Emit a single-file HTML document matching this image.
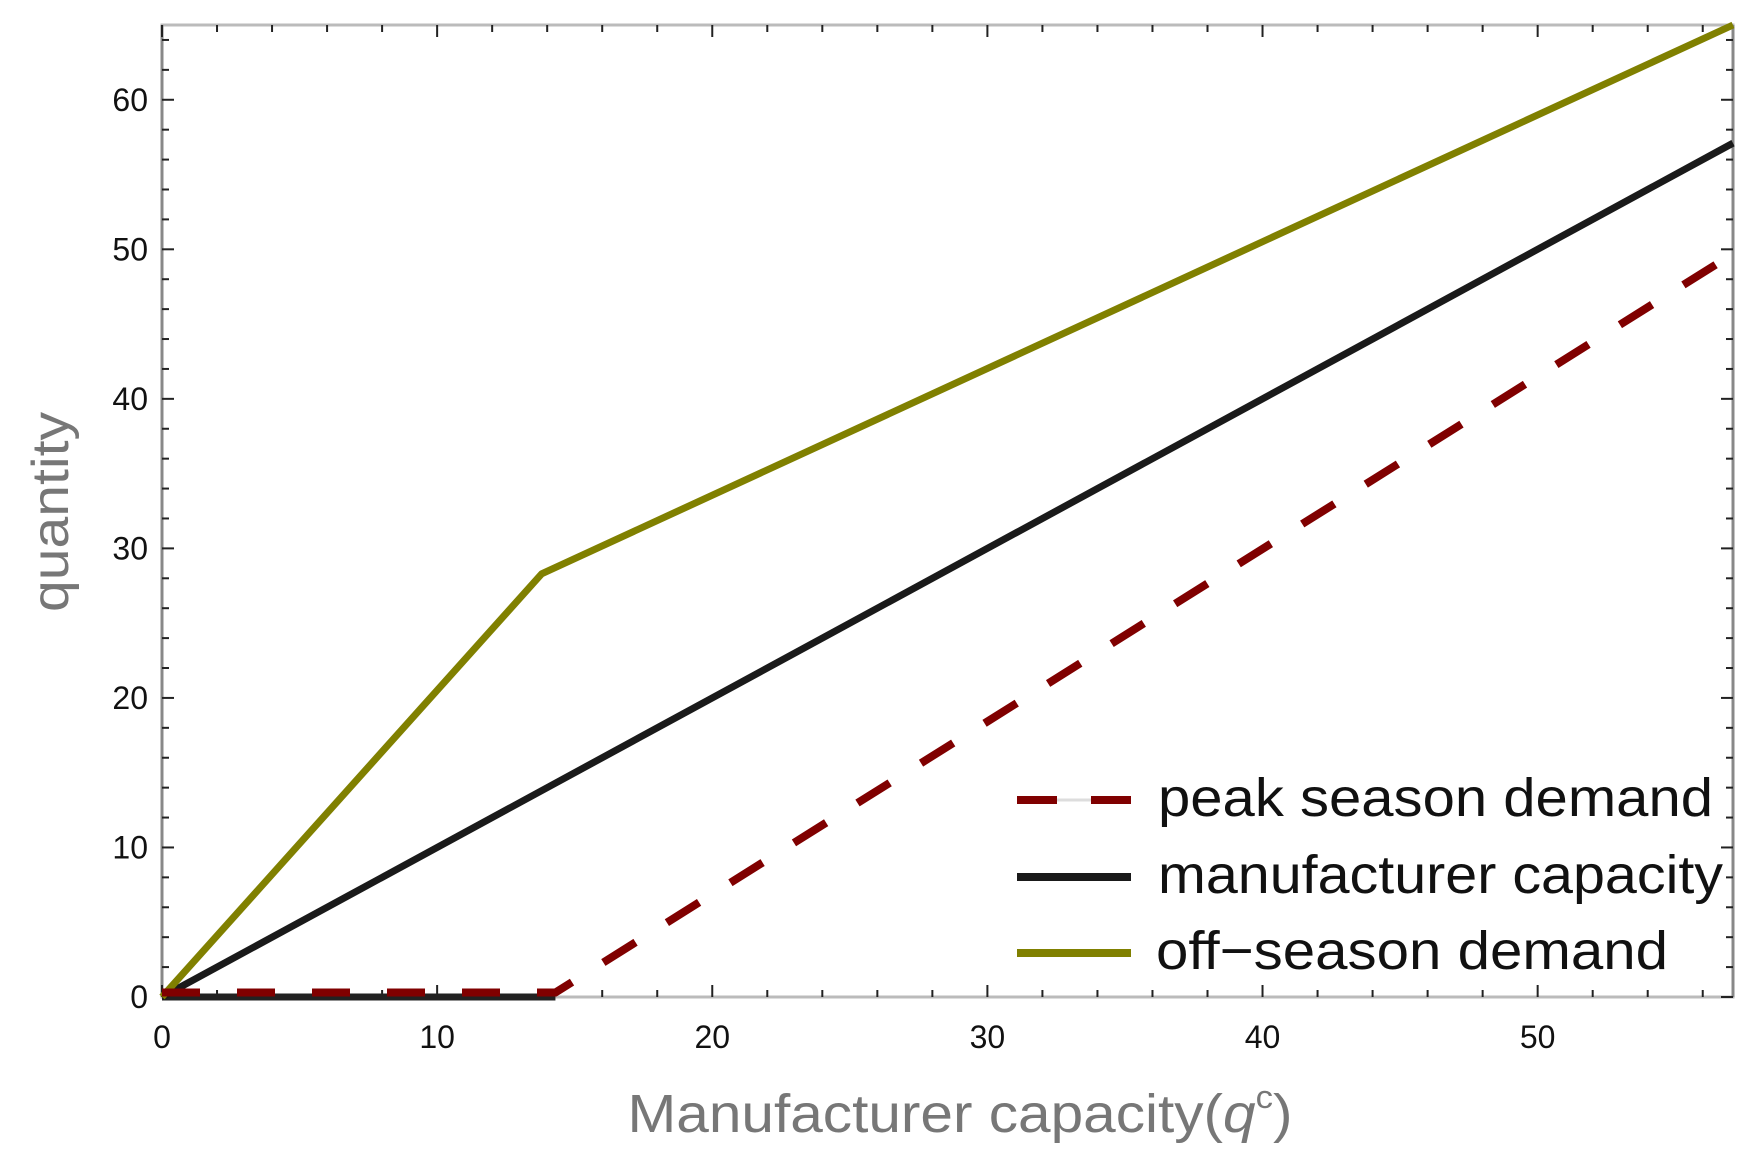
<!DOCTYPE html>
<html><head><meta charset="utf-8"><style>
html,body{margin:0;padding:0;background:#fff;}
svg{display:block;font-family:"Liberation Sans",Arial,sans-serif;}
</style></head><body>
<svg id="chart" width="1758" height="1171" viewBox="0 0 1758 1171" xmlns="http://www.w3.org/2000/svg">
<g id="axes"></g>
<g id="series"></g>
<text x="960" y="1132" text-anchor="middle" font-size="54" fill="#777" textLength="665" lengthAdjust="spacingAndGlyphs">Manufacturer capacity(<tspan font-style="italic">q</tspan><tspan font-size="32" dy="-24">c</tspan><tspan dy="24">)</tspan></text>
<text transform="translate(68,512) rotate(-90)" text-anchor="middle" font-size="52" fill="#777" textLength="200" lengthAdjust="spacingAndGlyphs">quantity</text>
<g id="legend">
 <g>
  <line x1="1017" y1="800" x2="1131" y2="800" stroke="#ddd" stroke-width="3"/>
  <line x1="1017" y1="800" x2="1131" y2="800" stroke="#800000" stroke-width="8" stroke-dasharray="40,34"/>
  <text x="1158" y="816" font-size="54" fill="#111" textLength="555" lengthAdjust="spacingAndGlyphs">peak season demand</text>
 </g>
 <g>
  <line x1="1017" y1="877" x2="1131" y2="877" stroke="#1a1a1a" stroke-width="8"/>
  <text x="1158" y="893" font-size="54" fill="#111" textLength="565" lengthAdjust="spacingAndGlyphs">manufacturer capacity</text>
 </g>
 <g>
  <line x1="1017" y1="953" x2="1131" y2="953" stroke="#808000" stroke-width="8"/>
  <text x="1156" y="969" font-size="54" fill="#111" textLength="512" lengthAdjust="spacingAndGlyphs">off−season demand</text>
 </g>
</g>
</svg>
<script>
const xTicks = [0, 10, 20, 30, 40, 50];
const yTicks = [0, 10, 20, 30, 40, 50, 60];
const offX = [0, 13.8, 57.1];
const offY = [0, 28.3, 65];
const capX = [0, 57.1];
const capY = [0, 57.1];
const peakX = [0, 14.3, 57.1];
const peakY = [0.3, 0.3, 49.7];
const flatX = [0, 14.3];
const flatY = [0, 0];

const L=162,R=1733,T=25,B=997, XMAX=57.1, YMAX=65;
const sx=v=>L+(v/XMAX)*(R-L);
const sy=v=>B-(v/YMAX)*(B-T);
const NS='http://www.w3.org/2000/svg';
function mk(tag,attrs,parent){const e=document.createElementNS(NS,tag);for(const k in attrs)e.setAttribute(k,attrs[k]);parent.appendChild(e);return e;}
const ax=document.getElementById('axes');
const fr=mk('rect',{x:L,y:T,width:R-L,height:B-T,fill:'none',stroke:'#bbb','stroke-width':3},ax);


const la=mk('line',{x1:L,y1:T,x2:L,y2:B,stroke:'#888','stroke-width':3},ax);


const ra=mk('line',{x1:R,y1:T,x2:R,y2:B,stroke:'#888','stroke-width':3},ax);


for(let v=0;v<=XMAX;v+=2){
  const major=v%10===0, len=major?12:7, x=sx(v);
  const t1=mk('line',{x1:x,y1:B,x2:x,y2:B-len,stroke:'#222','stroke-width':2},ax);
  
  
  const t2=mk('line',{x1:x,y1:T,x2:x,y2:T+len,stroke:'#222','stroke-width':2},ax);
  
  
}
for(let v=0;v<=YMAX;v+=2){
  const major=v%10===0, len=major?12:7, y=sy(v);
  const t1=mk('line',{x1:L,y1:y,x2:L+len,y2:y,stroke:'#222','stroke-width':2},ax);
  
  
  const t2=mk('line',{x1:R,y1:y,x2:R-len,y2:y,stroke:'#222','stroke-width':2},ax);
  
  
}
xTicks.forEach(v=>{
  const t=mk('text',{x:sx(v),y:1048,'text-anchor':'middle','font-size':32,fill:'#111',transform:'scale(1,1)'},ax);
  t.textContent=v;
  
  
});
yTicks.forEach(v=>{
  const t=mk('text',{x:148,y:sy(v)+11,'text-anchor':'end','font-size':32,fill:'#111'},ax);
  t.textContent=v;
  
  
});
const sg=document.getElementById('series');
function pts(xs,ys){return xs.map((x,i)=>sx(x)+','+sy(ys[i])).join(' ');}
const s1=mk('polyline',{points:pts(flatX,flatY),fill:'none',stroke:'#222','stroke-width':7},sg);


const s2=mk('polyline',{points:pts(capX,capY),fill:'none',stroke:'#1a1a1a','stroke-width':7},sg);


const s3=mk('polyline',{points:pts(offX,offY),fill:'none',stroke:'#808000','stroke-width':7,'stroke-linejoin':'round'},sg);


const s4=mk('polyline',{points:pts(peakX,peakY),fill:'none',stroke:'#800000','stroke-width':8,'stroke-dasharray':'38,37'},sg);


</script>
</body></html>
